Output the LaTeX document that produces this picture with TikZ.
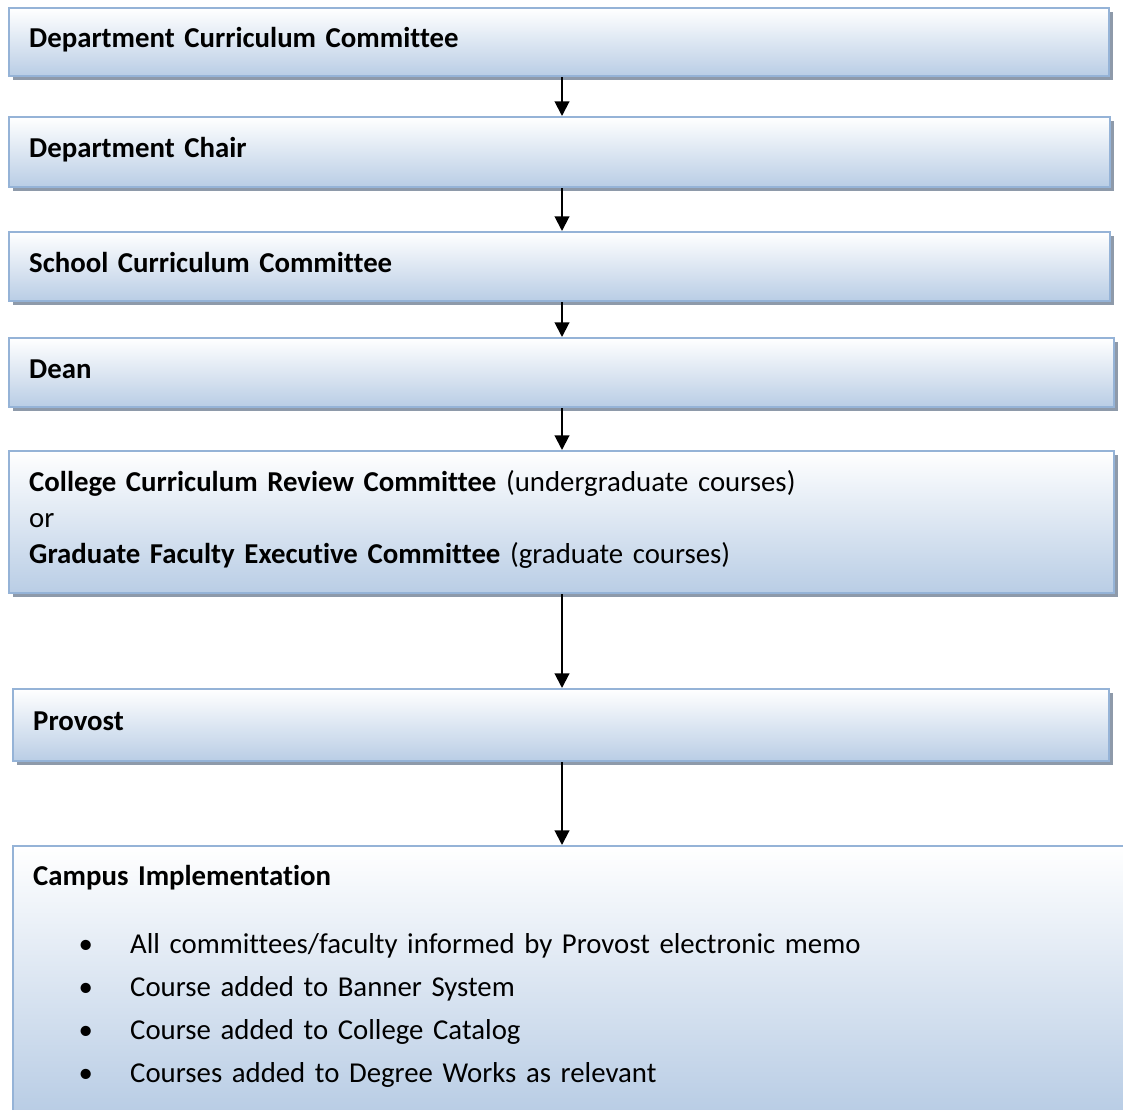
\documentclass[tikz,border=0pt]{standalone}
\usepackage{fontspec}
\setmainfont{Carlito}[Ligatures=CommonOff]
\usetikzlibrary{arrows.meta, shadows}

\definecolor{boxfill}{RGB}{185,205,229}
\definecolor{boxedge}{RGB}{149,179,215}
\definecolor{boxshade}{RGB}{142,154,170}

\begin{document}
\begin{tikzpicture}[
    x=0.75pt, y=0.75pt,
    stagebox/.style={draw=boxedge, line width=1.8pt,
        top color=white, bottom color=boxfill,
        drop shadow={shadow xshift=3pt, shadow yshift=-3pt, fill=boxshade, opacity=1},
        anchor=north west, align=left, inner xsep=15pt, inner ysep=0pt,
        font=\fontsize{21.6}{27}\selectfont,
        % fixed line height so the text sits like in a word processor
        execute at begin node={\rule{0pt}{16.5pt}},
        execute at end node={\rule[-8.4pt]{0pt}{0pt}}},
    flow/.style={-{Triangle[width=11pt,length=11pt]}, line width=1.5pt}
]
\useasboundingbox (0,0) rectangle (1123,-1109);

% approval stages, top to bottom
\node[stagebox, text width=795pt, minimum height=51pt] (dcc) at (8,-7)
    {\textbf{Department Curriculum Committee}};
\node[stagebox, text width=795.75pt, minimum height=52.5pt] (chair) at (8,-116)
    {\textbf{Department Chair}};
\node[stagebox, text width=795.75pt, minimum height=51.75pt] (scc) at (8,-231)
    {\textbf{School Curriculum Committee}};
\node[stagebox, text width=798.75pt, minimum height=51.75pt] (dean) at (8,-337)
    {\textbf{Dean}};
\node[stagebox, text width=798.75pt, minimum height=106.5pt] (review) at (8,-450)
    {\textbf{College Curriculum Review Committee} (undergraduate courses)\\
     or\\
     \textbf{Graduate Faculty Executive Committee} (graduate courses)};
\node[stagebox, text width=792pt, minimum height=54pt] (provost) at (12,-688)
    {\textbf{Provost}};
\node[stagebox, text width=812pt, minimum height=198.75pt] (campus) at (12,-845)
    {\textbf{Campus Implementation}\\[24pt]
     \hspace*{34pt}\makebox[38.75pt][l]{\textbullet}All committees/faculty informed by Provost electronic memo\\[5.25pt]
     \hspace*{34pt}\makebox[38.75pt][l]{\textbullet}Course added to Banner System\\[5.25pt]
     \hspace*{34pt}\makebox[38.75pt][l]{\textbullet}Course added to College Catalog\\[5.25pt]
     \hspace*{34pt}\makebox[38.75pt][l]{\textbullet}Courses added to Degree Works as relevant};

% arrows down the middle
\coordinate (spine) at (562,0);
\draw[flow] (dcc.south -| spine) -- (chair.north -| spine);
\draw[flow] (chair.south -| spine) -- (scc.north -| spine);
\draw[flow] (scc.south -| spine) -- (dean.north -| spine);
\draw[flow] (dean.south -| spine) -- (review.north -| spine);
\draw[flow] (review.south -| spine) -- (provost.north -| spine);
\draw[flow] (provost.south -| spine) -- (campus.north -| spine);

\end{tikzpicture}
\end{document}
